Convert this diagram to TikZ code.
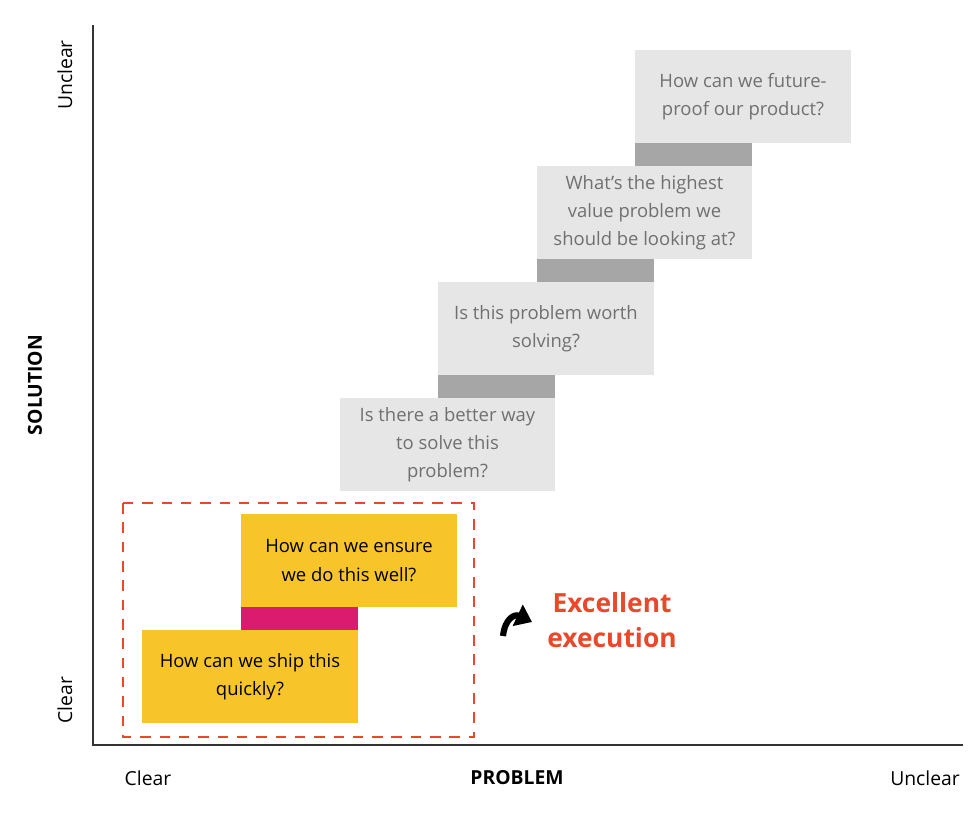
\documentclass[tikz,border=0pt]{standalone}
\usepackage{fontspec}
\setmainfont{Open Sans}
\usetikzlibrary{arrows.meta}
\definecolor{boxgray}{HTML}{E6E6E6}
\definecolor{bargray}{HTML}{A6A6A6}
\definecolor{boxyellow}{HTML}{F7C52A}
\definecolor{barpink}{HTML}{DB1C6E}
\definecolor{execred}{HTML}{E8492A}
\definecolor{txtgray}{HTML}{707070}
\tikzset{
  qbox/.style={fill=boxgray, text=txtgray, minimum width=4.32cm, minimum height=1.86cm, align=center, inner sep=0pt, font=\fontsize{10.5}{16}\selectfont},
  ybox/.style={qbox, fill=boxyellow, text=black},
  bar/.style={fill=bargray, minimum width=2.34cm, minimum height=0.46cm, inner sep=0pt},
  axis/.style={line width=1.2pt, draw=black!80},
  axlabel/.style={font=\fontsize{11}{13}\selectfont},
}
\begin{document}
\begin{tikzpicture}[x=0.02cm, y=-0.02cm]
\useasboundingbox (0,0) rectangle (974,827);
% axes
\coordinate (o) at (93,745);
\coordinate (ytop) at (93,25);
\coordinate (xend) at (963,745);
\draw [axis] (ytop) -- (o) -- (xend);
\node [axlabel, rotate=90] (yunclear) at (65,75) {Unclear};
\node [axlabel, rotate=90] (yclear) at (65,700) {Clear};
\node [axlabel, rotate=90, font=\fontsize{11}{13}\selectfont\bfseries] (solution) at (35,385) {SOLUTION};
\node [axlabel] (xclear) at (148,778) {Clear};
\node [axlabel, font=\fontsize{11}{13}\selectfont\bfseries] (problem) at (517,778) {PROBLEM};
\node [axlabel] (xunclear) at (925,778) {Unclear};
% questions
\node [qbox] (future) at (743,96.5) {How can we future-\\proof our product?};
\node [bar] (bar1) at (693.5,154.5) {};
\node [qbox] (value) at (644.5,212.5) {What's the highest\\value problem we\\should be looking at?};
\node [bar] (bar2) at (595.5,270.5) {};
\node [qbox] (worth) at (546,328.5) {Is this problem worth\\solving?};
\node [bar] (bar3) at (496.5,386.5) {};
\node [qbox] (better) at (447.5,444.5) {Is there a better way\\to solve this\\problem?};
\node [ybox] (ensure) at (349,560.5) {How can we ensure\\we do this well?};
\node [bar, fill=barpink] (bar4) at (299.5,618.5) {};
\node [ybox] (ship) at (250,676.5) {How can we ship this\\quickly?};
% execution
\draw [execred, line width=1.2pt, dash pattern=on 6pt off 5pt] (123,503) rectangle (474,737);
\node [text=execred, font=\fontsize{15}{20}\selectfont\bfseries, align=center] (exec) at (612,620) {Excellent\\execution};
\coordinate (arrs) at (503,636);
\coordinate (arre) at (532,622);
\draw [line width=3.5pt, -{Triangle[length=9pt,width=13pt]}] (arrs) .. controls (505,618) and (515,614) .. (arre);
\end{tikzpicture}
\end{document}
